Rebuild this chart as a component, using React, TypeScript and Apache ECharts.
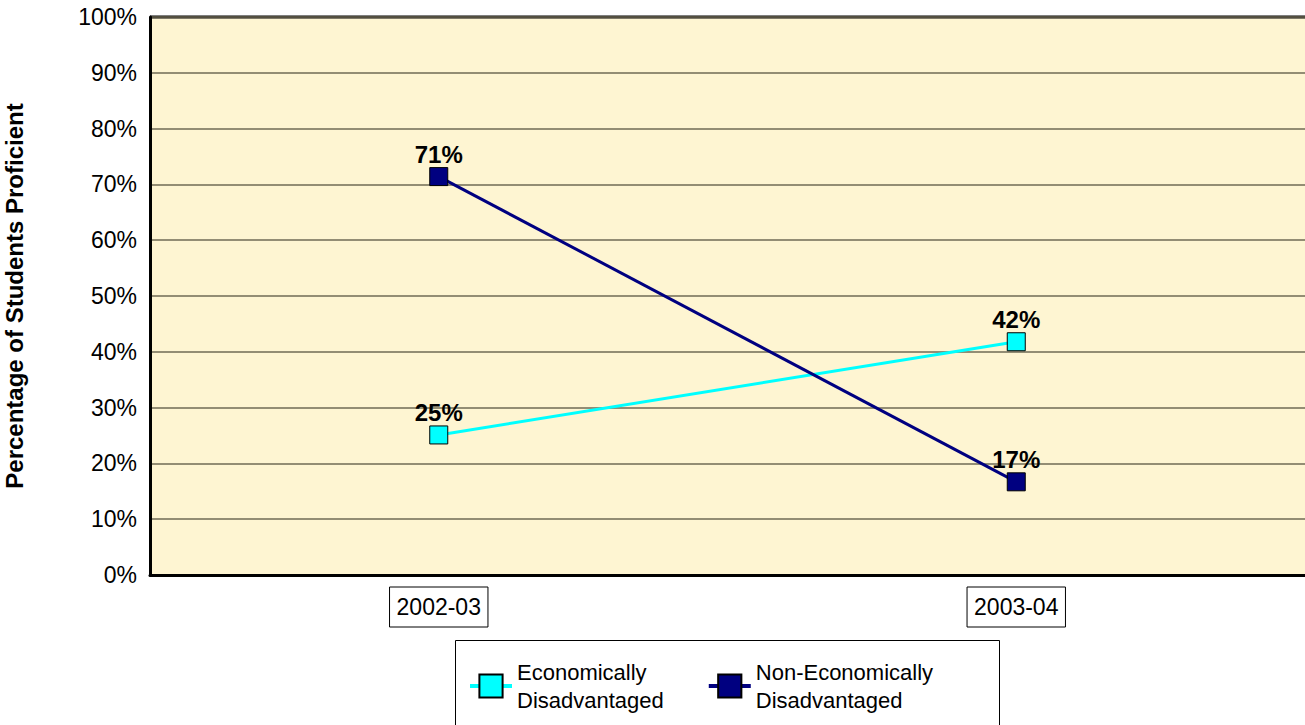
import React, { useEffect, useRef } from "react";
import * as echarts from "echarts";

const categories = ["2002-03", "2003-04"];
const econDisadvantaged = [25.1, 41.8];
const nonEconDisadvantaged = [71.4, 16.7];
const seriesNames = ["Economically\nDisadvantaged", "Non-Economically\nDisadvantaged"];
const yTitle = "Percentage of Students Proficient";

const FONT = "'Liberation Sans', Arial, sans-serif";

export default function App() {
  const ref = useRef<HTMLDivElement>(null);
  useEffect(() => {
    if (!ref.current) return;
    const chart = echarts.init(ref.current, undefined, { renderer: "svg" });
    const label = {
      show: true,
      position: "top",
      distance: 1,
      color: "#000",
      fontWeight: "bold",
      fontSize: 24,
      fontFamily: FONT,
      formatter: (p: any) => Math.round(p.value) + "%",
    };
    chart.setOption({
      animation: false,
      backgroundColor: "#fff",
      textStyle: { fontFamily: FONT },
      grid: {
        left: 150,
        right: 0,
        top: 17,
        bottom: 150,
        show: true,
        backgroundColor: "#FEF5D2",
        borderWidth: 0,
        containLabel: false,
        outerBoundsMode: "none",
      },
      xAxis: {
        type: "category",
        data: categories,
        boundaryGap: true,
        axisLine: { show: true, lineStyle: { color: "#000", width: 3 } },
        axisTick: { show: false },
        axisLabel: {
          color: "#000",
          fontSize: 23,
          fontFamily: FONT,
          lineHeight: 24,
          borderColor: "#000",
          borderWidth: 1,
          padding: [8, 7, 8, 7],
          margin: 12,
        },
      },
      yAxis: {
        type: "value",
        min: 0,
        max: 100,
        interval: 10,
        name: yTitle,
        nameLocation: "middle",
        nameGap: 124,
        nameTextStyle: { color: "#000", fontSize: 24, fontWeight: "bold", fontFamily: FONT },
        axisLine: { show: true, lineStyle: { color: "#000", width: 3 } },
        axisTick: { show: false },
        axisLabel: {
          color: "#000",
          fontSize: 23,
          fontFamily: FONT,
          margin: 13,
          formatter: (v: number) => v + "%",
        },
        splitLine: { show: true, lineStyle: { color: "#6F6A55", width: 1.5 } },
      },
      legend: {
        left: 468,
        top: 658,
        padding: 0,
        itemGap: 43,
        itemWidth: 42,
        itemHeight: 29,
        lineStyle: { width: 4 },
        textStyle: { color: "#000", fontSize: 22, fontFamily: FONT, lineHeight: 28 },
        data: seriesNames,
      },
      graphic: [
        {
          type: "line",
          shape: { x1: 150, y1: 17, x2: 1305, y2: 17 },
          style: { stroke: "#000", lineWidth: 3 },
          silent: true,
        },
        {
          type: "rect",
          shape: { x: 455.5, y: 640.5, width: 544, height: 100 },
          style: { fill: "none", stroke: "#000", lineWidth: 1 },
          silent: true,
        },
      ],
      series: [
        {
          name: seriesNames[0],
          type: "line",
          data: econDisadvantaged,
          symbol: "rect",
          symbolSize: 18,
          lineStyle: { color: "#00FFFF", width: 3 },
          itemStyle: { color: "#00FFFF", borderColor: "#000", borderWidth: 1 },
          label,
          z: 3,
        },
        {
          name: seriesNames[1],
          type: "line",
          data: nonEconDisadvantaged,
          symbol: "rect",
          symbolSize: 18,
          lineStyle: { color: "#000080", width: 3 },
          itemStyle: { color: "#000080", borderColor: "#000", borderWidth: 1 },
          label,
          z: 4,
        },
      ],
    });
    return () => chart.dispose();
  }, []);
  return (
    <div
      ref={ref}
      style={{ position: "fixed", left: 0, top: 0, width: 1305, height: 725, background: "#fff" }}
    />
  );
}
